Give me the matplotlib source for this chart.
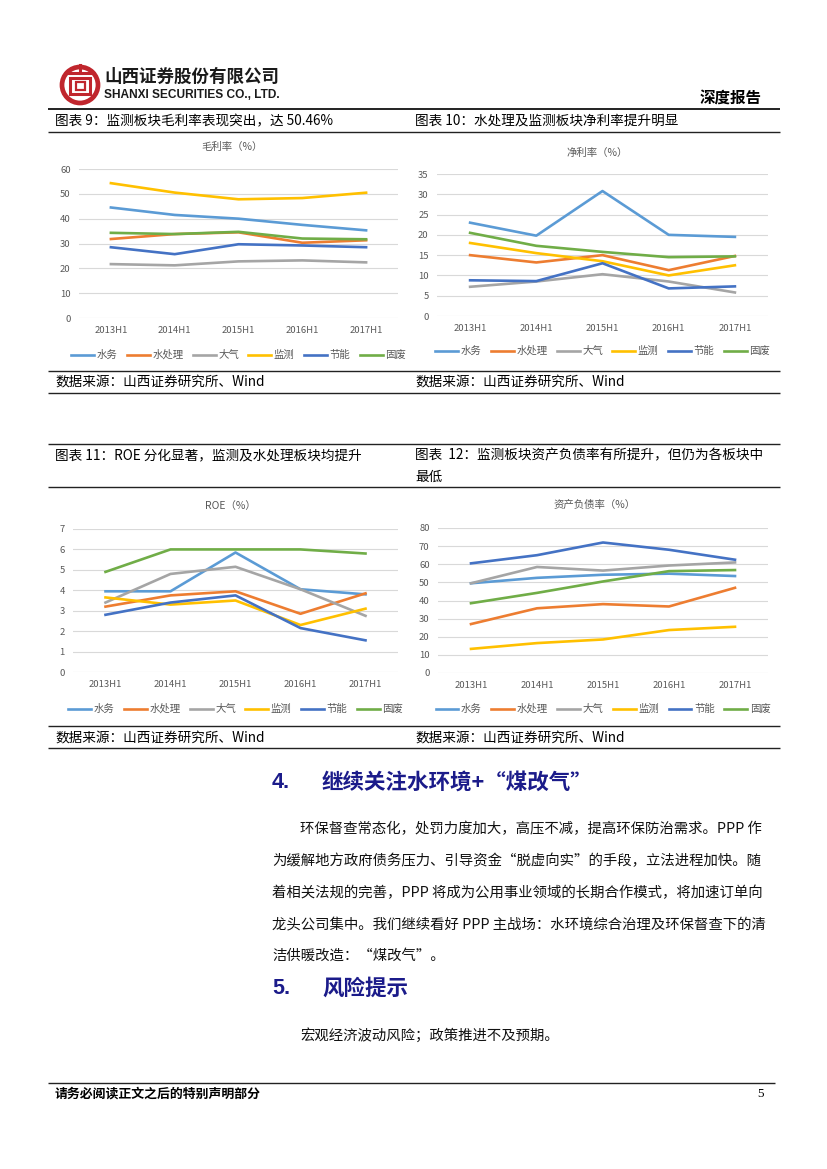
import matplotlib
matplotlib.use('Agg')
import matplotlib.pyplot as plt
from matplotlib.lines import Line2D
from matplotlib.patches import Circle, Rectangle

plt.rcParams['font.family'] = ['Noto Sans CJK SC', 'DejaVu Sans']

W, H = 827, 1169

periods = ['2013H1', '2014H1', '2015H1', '2016H1', '2017H1']
sectors = ['水务', '水处理', '大气', '监测', '节能', '固废']
colors = ['#5B9BD5', '#ED7D31', '#A5A5A5', '#FFC000', '#4472C4', '#70AD47']

# 毛利率 (%)
gross_water = [44.5, 41.5, 40.0, 37.5, 35.3]
gross_treat = [31.8, 33.8, 34.5, 30.3, 31.3]
gross_air = [21.7, 21.2, 22.8, 23.2, 22.4]
gross_monitor = [54.3, 50.5, 47.8, 48.3, 50.46]
gross_energy = [28.5, 25.7, 29.7, 29.2, 28.5]
gross_waste = [34.3, 33.8, 34.7, 32.0, 31.7]

# 净利率 (%)
net_water = [23.0, 19.8, 30.8, 20.0, 19.5]
net_treat = [15.0, 13.2, 15.0, 11.3, 14.8]
net_air = [7.2, 8.5, 10.3, 8.5, 5.8]
net_monitor = [18.0, 15.5, 13.5, 10.0, 12.5]
net_energy = [8.8, 8.6, 13.0, 6.8, 7.3]
net_waste = [20.5, 17.3, 15.8, 14.5, 14.7]

# ROE (%)
roe_water = [3.95, 3.95, 5.85, 4.05, 3.8]
roe_treat = [3.2, 3.75, 3.95, 2.85, 3.85]
roe_air = [3.4, 4.8, 5.15, 4.05, 2.75]
roe_monitor = [3.65, 3.3, 3.5, 2.3, 3.1]
roe_energy = [2.8, 3.4, 3.75, 2.15, 1.55]
roe_waste = [4.9, 6.0, 6.0, 6.0, 5.8]

# 资产负债率 (%)
debt_water = [49.5, 52.5, 54.2, 54.8, 53.5]
debt_treat = [27.0, 35.7, 38.0, 36.7, 47.0]
debt_air = [49.5, 58.5, 56.5, 59.3, 61.0]
debt_monitor = [13.3, 16.5, 18.5, 23.7, 25.5]
debt_energy = [60.5, 65.0, 72.0, 68.0, 62.5]
debt_waste = [38.5, 44.2, 50.5, 56.2, 56.8]

fig = plt.figure(figsize=(W / 100, H / 100), dpi=100)
bg = fig.add_axes([0, 0, 1, 1])
bg.set_xlim(0, W)
bg.set_ylim(H, 0)
bg.axis('off')


def px_rect(l, t, r, b):
    return [l / W, 1 - b / H, (r - l) / W, (b - t) / H]


def hline(y, x0=48, x1=780, lw=1.0, c='#222222'):
    bg.plot([x0, x1], [y, y], color=c, lw=lw, solid_capstyle='butt')


def line_chart(box, series, ymax, step, title, title_xy, legend_y):
    l, t, r, b = box
    ax = fig.add_axes(px_rect(l, t, r, b))
    x = list(range(len(periods)))
    for vals, col in zip(series, colors):
        ax.plot(x, vals, color=col, lw=1.9, solid_joinstyle='round')
    ax.set_xlim(-0.5, len(periods) - 0.5)
    ax.set_ylim(0, ymax)
    ax.set_yticks(range(0, ymax + 1, step))
    ax.set_xticks(x)
    ax.set_xticklabels(periods)
    ax.tick_params(length=0, labelsize=6.8, labelcolor='#595959')
    ax.tick_params(axis='y', pad=6)
    ax.tick_params(axis='x', pad=6)
    ax.grid(axis='y', color='#D9D9D9', lw=0.8)
    ax.set_axisbelow(True)
    for s in ax.spines.values():
        s.set_visible(False)
    bg.text(title_xy[0], title_xy[1], title, fontsize=7.5, color='#595959',
            ha='center', va='center')
    handles = [Line2D([0], [0], color=c, lw=1.9) for c in colors]
    ay = (b - legend_y) / (b - t)
    ax.legend(handles, sectors, ncol=6, loc='center', bbox_to_anchor=(0.5, ay),
              frameon=False, fontsize=7.5, handlelength=2.2, handletextpad=0.25,
              columnspacing=0.9, labelcolor='#595959')
    return ax


# header
logo_red = '#C0262D'
bg.add_patch(Circle((80, 85), 18, fill=False, ec=logo_red, lw=3.4))
bg.add_patch(Rectangle((70, 78), 20, 16, fill=False, ec=logo_red, lw=2.2))
bg.add_patch(Rectangle((75.5, 82), 9, 8, fill=False, ec=logo_red, lw=1.6))
bg.plot([67, 93], [73, 73], color=logo_red, lw=2.2)
bg.plot([80, 80], [65, 73], color=logo_red, lw=2.2)
bg.text(104, 77, '山西证券股份有限公司', fontsize=12.6, fontweight='bold',
        color='#1a1a1a', va='center')
bg.text(104, 95, 'SHANXI SECURITIES CO., LTD.', fontsize=8.6, fontweight='bold',
        family='Liberation Sans', color='#1a1a1a', va='center')
bg.text(762, 98, '深度报告', fontsize=11.2, fontweight='bold', ha='right', va='center')
hline(108.5, lw=1.4)

# captions row 1
cap = 9.8
bg.text(55, 121, '图表 9：监测板块毛利率表现突出，达 50.46%', fontsize=cap, va='center')
bg.text(415, 121, '图表 10：水处理及监测板块净利率提升明显', fontsize=cap, va='center')
hline(131.5, lw=1.0)

line_chart((79, 169, 398, 318),
           [gross_water, gross_treat, gross_air, gross_monitor, gross_energy, gross_waste],
           60, 10, '毛利率（%）', (232, 147), 355)
line_chart((437, 174, 768, 316),
           [net_water, net_treat, net_air, net_monitor, net_energy, net_waste],
           35, 5, '净利率（%）', (597, 153), 351)

hline(371, lw=1.0)
bg.text(55, 382, '数据来源：山西证券研究所、Wind', fontsize=cap, va='center')
bg.text(415, 382, '数据来源：山西证券研究所、Wind', fontsize=cap, va='center')
hline(392.5, lw=1.0)

# captions row 2
hline(443.5, lw=1.0)
bg.text(55, 455, '图表 11：ROE 分化显著，监测及水处理板块均提升', fontsize=cap, va='center')
bg.text(415, 455, '图表  12：监测板块资产负债率有所提升，但仍为各板块中', fontsize=cap, va='center')
bg.text(415, 477, '最低', fontsize=cap, va='center')
hline(487, lw=1.0)

line_chart((73, 529, 398, 672),
           [roe_water, roe_treat, roe_air, roe_monitor, roe_energy, roe_waste],
           7, 1, 'ROE（%）', (230, 506), 709)
line_chart((438, 528, 768, 673),
           [debt_water, debt_treat, debt_air, debt_monitor, debt_energy, debt_waste],
           80, 10, '资产负债率（%）', (595, 505), 709)

hline(726, lw=1.0)
bg.text(55, 738, '数据来源：山西证券研究所、Wind', fontsize=cap, va='center')
bg.text(415, 738, '数据来源：山西证券研究所、Wind', fontsize=cap, va='center')
hline(747.5, lw=1.0)

# section 4
navy = '#1B1B8A'
bg.text(272, 782, '4.', fontsize=15.5, fontweight='bold', family='Liberation Sans',
        color=navy, va='center')
bg.text(322, 782, '继续关注水环境+“煤改气”', fontsize=15.5, fontweight='bold',
        color=navy, va='center')
para = [
    (300, 829, '环保督查常态化，处罚力度加大，高压不减，提高环保防治需求。PPP 作'),
    (272, 861, '为缓解地方政府债务压力、引导资金“脱虚向实”的手段，立法进程加快。随'),
    (272, 893, '着相关法规的完善，PPP 将成为公用事业领域的长期合作模式，将加速订单向'),
    (272, 925, '龙头公司集中。我们继续看好 PPP 主战场：水环境综合治理及环保督查下的清'),
    (272, 956, '洁供暖改造：“煤改气”。'),
]
for x0, y0, s in para:
    bg.text(x0, y0, s, fontsize=10.35, va='center', color='#111111')

# section 5
bg.text(272, 988, '5.', fontsize=15.5, fontweight='bold', family='Liberation Sans',
        color=navy, va='center')
bg.text(322, 988, '风险提示', fontsize=15.5, fontweight='bold', color=navy, va='center')
bg.text(300, 1035, '宏观经济波动风险；政策推进不及预期。', fontsize=10.35,
        va='center', color='#111111')

# footer
hline(1083, x0=48, x1=775, lw=1.0)
bg.text(55, 1094, '请务必阅读正文之后的特别声明部分', fontsize=9.3, fontweight='bold',
        va='center')
bg.text(757, 1094, '5', fontsize=9.5, family='Liberation Serif', va='center')

fig.savefig('out.png', dpi=100)
